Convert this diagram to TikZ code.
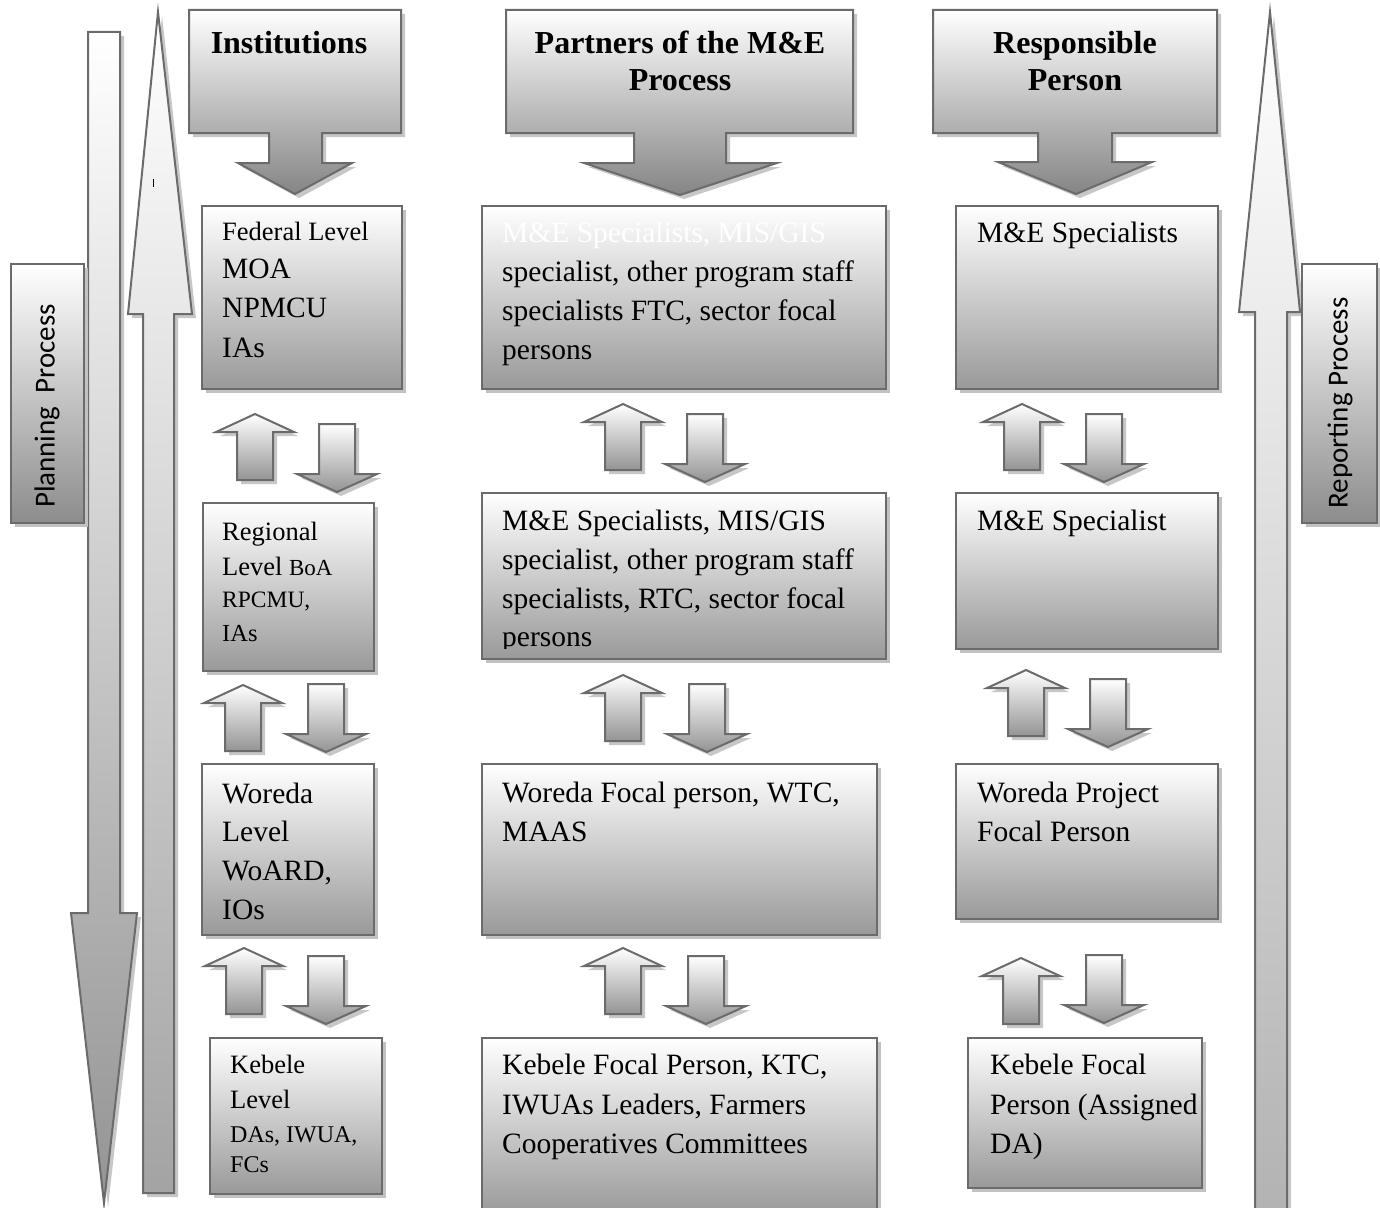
\documentclass[tikz,border=0pt]{standalone}
\usepackage{fontspec}
\setmainfont{Liberation Serif}
\newfontfamily\sidefont{Carlito}
\usetikzlibrary{shadows}

\tikzset{
  outline/.style={draw=black!58, line width=2pt, line join=miter},
  castshadow/.style={fill=black!22},
  levelbox/.style={rectangle, anchor=north west, inner sep=0pt, outline,
    top color=white, bottom color=black!40,
    drop shadow={shadow xshift=4pt, shadow yshift=-4pt, fill=black!24, opacity=1}},
  sidebox/.style={levelbox, bottom color=black!45},
  body/.style={inner sep=0pt, anchor=base west, font=\fontsize{29.5}{34}\selectfont},
  header/.style={inner sep=0pt, anchor=base, font=\bfseries\fontsize{32}{38}\selectfont},
  sidetext/.style={inner sep=0pt, rotate=90, font=\sidefont\fontsize{29}{34}\selectfont},
  smallarrow/.style={outline, top color=white, bottom color=black!42},
  callout/.style={outline, top color=white, bottom color=black!48},
  uparrow/.pic={
    \fill[castshadow, shift={(4,4)}] (0,0)--(-39,18)--(-18,18)--(-18,66)--(18,66)--(18,18)--(39,18)--cycle;
    \shadedraw[smallarrow] (0,0)--(-39,18)--(-18,18)--(-18,66)--(18,66)--(18,18)--(39,18)--cycle;
  },
  downarrow/.pic={
    \fill[castshadow, shift={(4,4)}] (0,0)--(-40,-18)--(-18,-18)--(-18,-68)--(18,-68)--(18,-18)--(40,-18)--cycle;
    \shadedraw[smallarrow] (0,0)--(-40,-18)--(-18,-18)--(-18,-68)--(18,-68)--(18,-18)--(40,-18)--cycle;
  },
}

\begin{document}
\begin{tikzpicture}[x=1pt, y=-1pt]
\useasboundingbox (0,0) rectangle (1380,1207);

% ---- long process arrows at the sides ----
\fill[castshadow, shift={(4,4)}] (88,32)--(120,32)--(120,913)--(137,913)--(104,1203)--(71,913)--(88,913)--cycle;
\shadedraw[outline, top color=white, bottom color=black!42]
  (88,32)--(120,32)--(120,913)--(137,913)--(104,1203)--(71,913)--(88,913)--cycle;

\fill[castshadow, shift={(4,4)}] (158,12)--(192,314)--(174,314)--(174,1193)--(143,1193)--(143,314)--(128,314)--cycle;
\shadedraw[outline, top color=white, bottom color=black!36]
  (158,12)--(192,314)--(174,314)--(174,1193)--(143,1193)--(143,314)--(128,314)--cycle;
\draw[line width=1pt] (153,179) -- (153,187);

\fill[castshadow, shift={(4,4)}] (1270,12)--(1300,312)--(1287,312)--(1287,1215)--(1255,1215)--(1255,312)--(1239,312)--cycle;
\shadedraw[outline, top color=white, bottom color=black!30]
  (1270,12)--(1300,312)--(1287,312)--(1287,1215)--(1255,1215)--(1255,312)--(1239,312)--cycle;

% ---- side labels ----
\node[sidebox, minimum width=73pt, minimum height=259pt] (planbox) at (10,263) {};
\node[sidetext] (plantext) at (47,406) {Planning\ \ Process};
\node[sidebox, minimum width=75pt, minimum height=259pt] (repbox) at (1301,263) {};
\node[sidetext] (reptext) at (1340,403) {Reporting Process};

% ---- column headers ----
\fill[castshadow, shift={(4,4)}] (189,10)--(401,10)--(401,133)--(322,133)--(322,163)--(352,163)--(295,194)--(238,163)--(269,163)--(269,133)--(189,133)--cycle;
\shadedraw[callout] (189,10)--(401,10)--(401,133)--(322,133)--(322,163)--(352,163)--(295,194)--(238,163)--(269,163)--(269,133)--(189,133)--cycle;
\node[header] (hinst) at (289,53) {Institutions};

\fill[castshadow, shift={(4,4)}] (506,10)--(853,10)--(853,133)--(726,133)--(726,163)--(777,163)--(680,195)--(584,163)--(634,163)--(634,133)--(506,133)--cycle;
\shadedraw[callout] (506,10)--(853,10)--(853,133)--(726,133)--(726,163)--(777,163)--(680,195)--(584,163)--(634,163)--(634,133)--(506,133)--cycle;
\node[header] (hpartA) at (680,53) {Partners of the M\&E};
\node[header] (hpartB) at (680,90) {Process};

\fill[castshadow, shift={(4,4)}] (933,10)--(1217,10)--(1217,133)--(1112,133)--(1112,162)--(1152,162)--(1076,194)--(998,162)--(1038,162)--(1038,133)--(933,133)--cycle;
\shadedraw[callout] (933,10)--(1217,10)--(1217,133)--(1112,133)--(1112,162)--(1152,162)--(1076,194)--(998,162)--(1038,162)--(1038,133)--(933,133)--cycle;
\node[header] (hrespA) at (1075,53) {Responsible};
\node[header] (hrespB) at (1075,90) {Person};

% ---- institutions column ----
\node[levelbox, minimum width=200pt, minimum height=183pt] (fed) at (201,205) {};
\node[body, font=\fontsize{26.5}{30}\selectfont] (fedA) at (222,240) {Federal Level};
\node[body] (fedB) at (222,278) {MOA};
\node[body] (fedC) at (222,317) {NPMCU};
\node[body] (fedD) at (222,357) {IAs};

\node[levelbox, minimum width=171pt, minimum height=168pt] (reg) at (202,502) {};
\node[body, font=\fontsize{26.5}{30}\selectfont] (regA) at (222,540) {Regional};
\node[body, font=\fontsize{26.5}{30}\selectfont] (regB) at (222,575) {Level {\fontsize{23}{26}\selectfont BoA}};
\node[body, font=\fontsize{23.5}{28}\selectfont] (regC) at (222,607) {RPCMU,};
\node[body, font=\fontsize{24.5}{28}\selectfont] (regD) at (222,641) {IAs};

\node[levelbox, minimum width=172pt, minimum height=171pt] (wor) at (201,763) {};
\node[body] (worA) at (222,803) {Woreda};
\node[body] (worB) at (222,841) {Level};
\node[body] (worC) at (222,880) {WoARD,};
\node[body] (worD) at (222,919) {IOs};

\node[levelbox, minimum width=172pt, minimum height=156pt] (keb) at (209,1037) {};
\node[body, font=\fontsize{26.5}{30}\selectfont] (kebA) at (230,1073) {Kebele};
\node[body, font=\fontsize{26.5}{30}\selectfont] (kebB) at (230,1108) {Level};
\node[body, font=\fontsize{24}{28}\selectfont] (kebC) at (230,1142) {DAs, IWUA,};
\node[body, font=\fontsize{24}{28}\selectfont] (kebD) at (230,1172) {FCs};

\pic at (255,414) {uparrow};   \pic at (337,492) {downarrow};
\pic at (243,685) {uparrow};   \pic at (326,752) {downarrow};
\pic at (244,948) {uparrow};   \pic at (326,1024) {downarrow};

% ---- partners column ----
\node[levelbox, minimum width=404pt, minimum height=183pt] (pfed) at (481,205) {};
\node[body, text=white] (pfedA) at (502,242) {M\&E Specialists, MIS/GIS};
\node[body] (pfedB) at (502,281) {specialist, other program staff};
\node[body] (pfedC) at (502,320) {specialists FTC, sector focal};
\node[body] (pfedD) at (502,359) {persons};

\node[levelbox, minimum width=404pt, minimum height=166pt] (preg) at (481,492) {};
\begin{scope}
  \clip (481,492) rectangle (885,648);
  \node[body] (pregA) at (502,530) {M\&E Specialists, MIS/GIS};
  \node[body] (pregB) at (502,569) {specialist, other program staff};
  \node[body] (pregC) at (502,608) {specialists, RTC, sector focal};
  \node[body] (pregD) at (502,646) {persons};
\end{scope}

\node[levelbox, minimum width=395pt, minimum height=171pt] (pwor) at (481,763) {};
\node[body] (pworA) at (502,802) {Woreda Focal person, WTC,};
\node[body] (pworB) at (502,841) {MAAS};

\node[levelbox, minimum width=395pt, minimum height=178pt] (pkeb) at (481,1037) {};
\node[body] (pkebA) at (502,1074) {Kebele Focal Person, KTC,};
\node[body] (pkebB) at (502,1114) {IWUAs Leaders, Farmers};
\node[body] (pkebC) at (502,1153) {Cooperatives Committees};

\pic at (623,404) {uparrow};   \pic at (705,482) {downarrow};
\pic at (623,675) {uparrow};   \pic at (707,752) {downarrow};
\pic at (623,948) {uparrow};   \pic at (706,1024) {downarrow};

% ---- responsible person column ----
\node[levelbox, minimum width=262pt, minimum height=183pt] (rfed) at (955,205) {};
\node[body] (rfedA) at (977,242) {M\&E Specialists};

\node[levelbox, minimum width=262pt, minimum height=156pt] (rreg) at (955,492) {};
\node[body] (rregA) at (977,530) {M\&E Specialist};

\node[levelbox, minimum width=262pt, minimum height=155pt] (rwor) at (955,763) {};
\node[body] (rworA) at (977,802) {Woreda Project};
\node[body] (rworB) at (977,841) {Focal Person};

\node[levelbox, minimum width=234pt, minimum height=150pt] (rkeb) at (967,1037) {};
\node[body] (rkebA) at (990,1074) {Kebele Focal};
\node[body] (rkebB) at (990,1114) {Person (Assigned};
\node[body] (rkebC) at (990,1153) {DA)};

\pic at (1022,404) {uparrow};  \pic at (1104,482) {downarrow};
\pic at (1026,670) {uparrow};  \pic at (1108,747) {downarrow};
\pic at (1021,958) {uparrow};  \pic at (1104,1023) {downarrow};
\end{tikzpicture}
\end{document}
